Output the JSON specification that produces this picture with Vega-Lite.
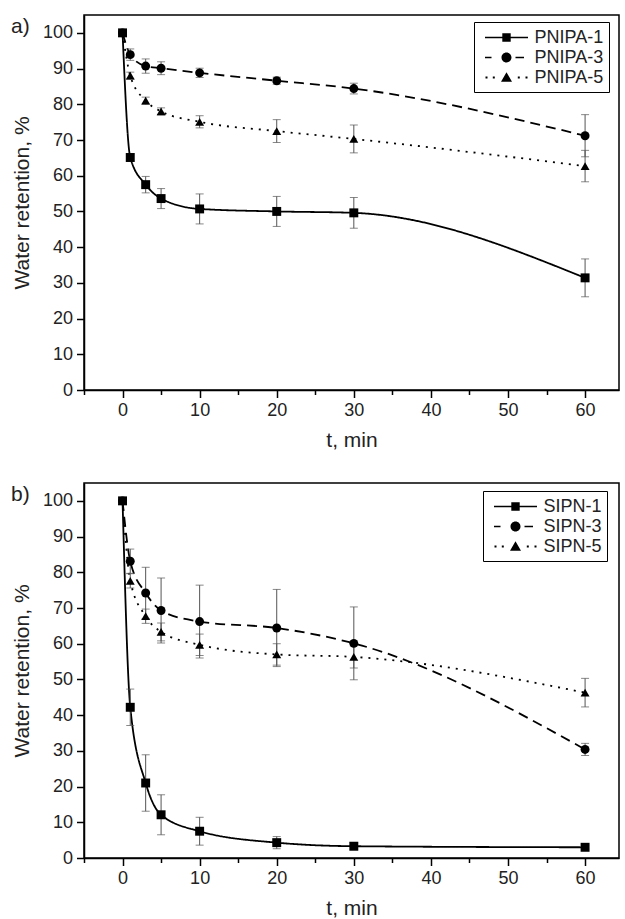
{
  "$schema": "https://vega.github.io/schema/vega-lite/v6.json",
  "padding": {"left": 10, "top": 14, "right": 0, "bottom": 0},
  "spacing": 30,
  "resolve": {"scale": {"shape": "independent", "strokeDash": "independent"}, "legend": {"shape": "independent", "strokeDash": "independent"}},
  "datasets": {
    "a": [
      {"series": "PNIPA-1", "t": 0, "wr": 100, "err": 0},
      {"series": "PNIPA-1", "t": 1, "wr": 65.1, "err": 1.0},
      {"series": "PNIPA-1", "t": 3, "wr": 57.5, "err": 2.3},
      {"series": "PNIPA-1", "t": 5, "wr": 53.6, "err": 2.8},
      {"series": "PNIPA-1", "t": 10, "wr": 50.7, "err": 4.2},
      {"series": "PNIPA-1", "t": 20, "wr": 50.0, "err": 4.2},
      {"series": "PNIPA-1", "t": 30, "wr": 49.6, "err": 4.3},
      {"series": "PNIPA-1", "t": 60, "wr": 31.4, "err": 5.3},
      {"series": "PNIPA-3", "t": 0, "wr": 100, "err": 0.5},
      {"series": "PNIPA-3", "t": 1, "wr": 93.9, "err": 1.6},
      {"series": "PNIPA-3", "t": 3, "wr": 90.7, "err": 2.0},
      {"series": "PNIPA-3", "t": 5, "wr": 90.1, "err": 1.8},
      {"series": "PNIPA-3", "t": 10, "wr": 88.8, "err": 1.3},
      {"series": "PNIPA-3", "t": 20, "wr": 86.6, "err": 1.0},
      {"series": "PNIPA-3", "t": 30, "wr": 84.4, "err": 1.5},
      {"series": "PNIPA-3", "t": 60, "wr": 71.2, "err": 5.9},
      {"series": "PNIPA-5", "t": 0, "wr": 100, "err": 0},
      {"series": "PNIPA-5", "t": 1, "wr": 88.0, "err": 1.0},
      {"series": "PNIPA-5", "t": 3, "wr": 81.0, "err": 1.0},
      {"series": "PNIPA-5", "t": 5, "wr": 78.0, "err": 1.0},
      {"series": "PNIPA-5", "t": 10, "wr": 75.1, "err": 1.7},
      {"series": "PNIPA-5", "t": 20, "wr": 72.5, "err": 3.2},
      {"series": "PNIPA-5", "t": 30, "wr": 70.3, "err": 3.9},
      {"series": "PNIPA-5", "t": 60, "wr": 62.7, "err": 4.4}
    ],
    "b": [
      {"series": "SIPN-1", "t": 0, "wr": 100, "err": 0},
      {"series": "SIPN-1", "t": 1, "wr": 42.2, "err": 5.1},
      {"series": "SIPN-1", "t": 3, "wr": 21.0, "err": 7.9},
      {"series": "SIPN-1", "t": 5, "wr": 12.1, "err": 5.6},
      {"series": "SIPN-1", "t": 10, "wr": 7.5, "err": 3.9},
      {"series": "SIPN-1", "t": 20, "wr": 4.3, "err": 1.7},
      {"series": "SIPN-1", "t": 30, "wr": 3.3, "err": 1.0},
      {"series": "SIPN-1", "t": 60, "wr": 3.0, "err": 0.5},
      {"series": "SIPN-3", "t": 0, "wr": 100, "err": 0},
      {"series": "SIPN-3", "t": 1, "wr": 83.1, "err": 3.4},
      {"series": "SIPN-3", "t": 3, "wr": 74.2, "err": 7.2},
      {"series": "SIPN-3", "t": 5, "wr": 69.3, "err": 9.1},
      {"series": "SIPN-3", "t": 10, "wr": 66.2, "err": 10.2},
      {"series": "SIPN-3", "t": 20, "wr": 64.4, "err": 10.8},
      {"series": "SIPN-3", "t": 30, "wr": 60.1, "err": 10.2},
      {"series": "SIPN-3", "t": 60, "wr": 30.4, "err": 1.7},
      {"series": "SIPN-5", "t": 0, "wr": 100, "err": 0},
      {"series": "SIPN-5", "t": 1, "wr": 77.6, "err": 2.0},
      {"series": "SIPN-5", "t": 3, "wr": 67.7, "err": 2.0},
      {"series": "SIPN-5", "t": 5, "wr": 63.3, "err": 2.5},
      {"series": "SIPN-5", "t": 10, "wr": 59.7, "err": 3.0},
      {"series": "SIPN-5", "t": 20, "wr": 57.0, "err": 3.0},
      {"series": "SIPN-5", "t": 30, "wr": 56.3, "err": 3.1},
      {"series": "SIPN-5", "t": 60, "wr": 46.3, "err": 4.0}
    ]
  },
  "vconcat": [
    {
      "width": 535,
      "height": 375,
      "title": {"text": "a)", "anchor": "start", "frame": "group", "dx": -73, "offset": -22},
      "data": {"name": "a"},
      "resolve": {"scale": {"shape": "independent"}, "legend": {"shape": "independent"}},
      "encoding": {
        "x": {"field": "t", "type": "quantitative", "scale": {"domain": [-5, 64.4], "nice": false, "zero": false}, "axis": {"title": "t, min"}},
        "y": {"field": "wr", "type": "quantitative", "scale": {"domain": [0, 105], "nice": false}, "axis": {"title": "Water retention, %"}}
      },
      "layer": [
        {
          "mark": {"type": "line", "interpolate": "monotone", "color": "black", "strokeWidth": 1.8},
          "encoding": {"strokeDash": {"field": "series", "type": "nominal", "scale": {"domain": ["PNIPA-5", "PNIPA-3", "PNIPA-1"], "range": [[2, 6], [10, 6], [1, 0]]}, "legend": null}}
        },
        {
          "transform": [{"filter": "datum.err > 0"}],
          "mark": {"type": "errorbar", "ticks": {"size": 8, "color": "#555"}, "color": "#555", "thickness": 1},
          "encoding": {"yError": {"field": "err"}}
        },
        {
          "mark": {"type": "point", "filled": true, "color": "black", "size": 80, "opacity": 1},
          "encoding": {"shape": {"field": "series", "type": "nominal", "scale": {"domain": ["PNIPA-5", "PNIPA-3", "PNIPA-1"], "range": ["triangle-up", "circle", "square"]}, "legend": null}}
        },
        {
          "transform": [{"filter": "false"}],
          "mark": {"type": "point", "filled": true, "fill": "black", "stroke": "black", "strokeWidth": 1, "opacity": 1},
          "encoding": {"shape": {"field": "series", "type": "nominal",
            "scale": {"domain": ["PNIPA-1", "PNIPA-3", "PNIPA-5"], "range": [
              "M-2.15,-0.08H2.15V0.08H-2.15ZM-0.42,-0.42H0.42V0.42H-0.42Z",
              "M-2.15,-0.08H-1.5V0.08H-2.15ZM0.9,-0.08H1.75V0.08H0.9ZM0.5,0A0.5,0.5,0,1,1,-0.5,0A0.5,0.5,0,1,1,0.5,0Z",
              "M-2.1,-0.1H-1.9V0.1H-2.1ZM-1.37,-0.1H-1.17V0.1H-1.37ZM1.13,-0.1H1.33V0.1H1.13ZM1.9,-0.1H2.1V0.1H1.9ZM-0.55,0.42L0,-0.52L0.55,0.42Z"]},
            "legend": {"title": null, "orient": "none", "legendX": 390, "legendY": 7,
              "encode": {"symbols": {"fill": {"value": "black"}, "stroke": {"value": "black"}, "strokeWidth": {"value": 1}}}}}}
        }
      ]
    },
    {
      "width": 535,
      "height": 375,
      "title": {"text": "b)", "anchor": "start", "frame": "group", "dx": -73, "offset": -22},
      "data": {"name": "b"},
      "resolve": {"scale": {"shape": "independent"}, "legend": {"shape": "independent"}},
      "encoding": {
        "x": {"field": "t", "type": "quantitative", "scale": {"domain": [-5, 64.4], "nice": false, "zero": false}, "axis": {"title": "t, min"}},
        "y": {"field": "wr", "type": "quantitative", "scale": {"domain": [0, 105], "nice": false}, "axis": {"title": "Water retention, %"}}
      },
      "layer": [
        {
          "mark": {"type": "line", "interpolate": "monotone", "color": "black", "strokeWidth": 1.8},
          "encoding": {"strokeDash": {"field": "series", "type": "nominal", "scale": {"domain": ["SIPN-5", "SIPN-3", "SIPN-1"], "range": [[2, 6], [10, 6], [1, 0]]}, "legend": null}}
        },
        {
          "transform": [{"filter": "datum.err > 0"}],
          "mark": {"type": "errorbar", "ticks": {"size": 8, "color": "#555"}, "color": "#555", "thickness": 1},
          "encoding": {"yError": {"field": "err"}}
        },
        {
          "mark": {"type": "point", "filled": true, "color": "black", "size": 80, "opacity": 1},
          "encoding": {"shape": {"field": "series", "type": "nominal", "scale": {"domain": ["SIPN-5", "SIPN-3", "SIPN-1"], "range": ["triangle-up", "circle", "square"]}, "legend": null}}
        },
        {
          "transform": [{"filter": "false"}],
          "mark": {"type": "point", "filled": true, "fill": "black", "stroke": "black", "strokeWidth": 1, "opacity": 1},
          "encoding": {"shape": {"field": "series", "type": "nominal",
            "scale": {"domain": ["SIPN-1", "SIPN-3", "SIPN-5"], "range": [
              "M-2.15,-0.08H2.15V0.08H-2.15ZM-0.42,-0.42H0.42V0.42H-0.42Z",
              "M-2.15,-0.08H-1.5V0.08H-2.15ZM0.9,-0.08H1.75V0.08H0.9ZM0.5,0A0.5,0.5,0,1,1,-0.5,0A0.5,0.5,0,1,1,0.5,0Z",
              "M-2.1,-0.1H-1.9V0.1H-2.1ZM-1.37,-0.1H-1.17V0.1H-1.37ZM1.13,-0.1H1.33V0.1H1.13ZM1.9,-0.1H2.1V0.1H1.9ZM-0.55,0.42L0,-0.52L0.55,0.42Z"]},
            "legend": {"title": null, "orient": "none", "legendX": 399, "legendY": 8,
              "encode": {"symbols": {"fill": {"value": "black"}, "stroke": {"value": "black"}, "strokeWidth": {"value": 1}}}}}}
        }
      ]
    }
  ],
  "config": {
    "font": "Liberation Sans",
    "view": {"stroke": "black", "strokeWidth": 1.5},
    "title": {"fontSize": 21, "fontWeight": "normal", "color": "#222", "font": "Liberation Sans"},
    "axis": {
      "grid": false,
      "domainColor": "black",
      "domainWidth": 1.5,
      "tickColor": "black",
      "tickWidth": 1.5,
      "tickSize": {"condition": {"test": "datum.value % 10 === 0", "value": 7.5}, "value": 4.5},
      "labelExpr": "datum.value % 10 === 0 ? datum.label : ''",
      "labelFontSize": 18,
      "labelColor": "#222",
      "labelPadding": 4,
      "labelOverlap": false,
      "labelFlush": false,
      "titleFontSize": 21,
      "titleFontWeight": "normal",
      "titleColor": "#222"
    },
    "axisX": {"values": [-5, 0, 5, 10, 15, 20, 25, 30, 35, 40, 45, 50, 55, 60], "titlePadding": 10},
    "axisY": {"values": [0, 5, 10, 15, 20, 25, 30, 35, 40, 45, 50, 55, 60, 65, 70, 75, 80, 85, 90, 95, 100], "titlePadding": 10},
    "legend": {
      "strokeColor": "black",
      "fillColor": "white",
      "padding": 5,
      "symbolSize": 400,
      "symbolOffset": 17,
      "labelOffset": 17.5,
      "labelFontSize": 18,
      "labelColor": "#222",
      "rowPadding": 0,
      "cornerRadius": 0,
      "symbolFillColor": "black",
      "symbolStrokeColor": "black",
      "symbolStrokeWidth": 1,
      "symbolOpacity": 1
    }
  }
}
